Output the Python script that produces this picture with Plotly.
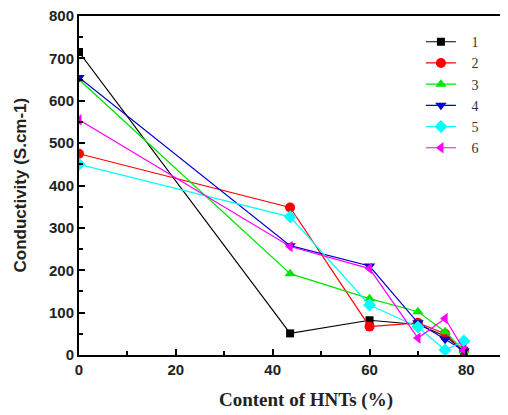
import plotly.graph_objects as go

x_vals = [0, 43.6, 60, 70, 75.6, 79.5]
s1 = [715, 51, 82, 72, 45, 10]
s2 = [475, 348, 67, 76, 50, 10]
s3 = [650, 192, 133, 102, 55, 10]
s4 = [655, 258, 210, 76, 37, 10]
s5 = [450, 326, 118, 66, 12, 33]
s6 = [555, 256, 204, 40, 86, 12]
names = ["1", "2", "3", "4", "5", "6"]
series = [s1, s2, s3, s4, s5, s6]
colors = ["#000000", "#ff0000", "#00e600", "#0000cc", "#00ffff", "#ff00ff"]
symbols = ["square", "circle", "triangle-up", "triangle-down", "diamond", "triangle-left"]

fig = go.Figure()
for n, s, c, m in zip(names, series, colors, symbols):
    fig.add_trace(go.Scatter(
        x=x_vals, y=s, name="\u00a0\u00a0\u00a0" + n, mode="lines+markers",
        line=dict(color=c, width=1.2),
        marker=dict(symbol=m, color=c, size=10 if m != "square" else 8),
    ))

fig.update_layout(
    width=500, height=407,
    margin=dict(l=71, r=0, t=8, b=60, autoexpand=False),
    paper_bgcolor="white", plot_bgcolor="white",
    showlegend=True,
    legend=dict(x=0.797, y=0.97, xanchor="left", yanchor="top",
                font=dict(family="Liberation Serif", size=14, color="#333"),
                bgcolor="rgba(0,0,0,0)", tracegroupgap=0, itemwidth=30),
    xaxis=dict(range=[0, 88.6], tickvals=[0, 20, 40, 60, 80], automargin=False,
               ticks="inside", ticklen=6, tickwidth=2, tickcolor="black",
               minor=dict(ticks="inside", ticklen=4, tickwidth=2, tickcolor="black", dtick=10),
               showline=True, linecolor="black", linewidth=2, mirror=True,
               showgrid=False, zeroline=False, ticklabeloverflow="allow",
               tickfont=dict(family="Liberation Sans", size=15, color="#222", weight="bold")),
    yaxis=dict(range=[0, 800], tickvals=[0, 100, 200, 300, 400, 500, 600, 700, 800], automargin=False,
               ticks="inside", ticklen=6, tickwidth=2, tickcolor="black",
               minor=dict(ticks="inside", ticklen=4, tickwidth=2, tickcolor="black", dtick=50),
               showline=True, linecolor="black", linewidth=2, mirror=False,
               showgrid=False, zeroline=False, ticklabeloverflow="allow",
               tickfont=dict(family="Liberation Sans", size=15, color="#222", weight="bold")),
    annotations=[
        dict(text="<b>Content of HNTs (%)</b>", xref="paper", yref="paper", x=0.53, y=0,
             xanchor="center", yanchor="middle", yshift=-45, showarrow=False,
             font=dict(family="Liberation Serif", size=19, color="#222")),
        dict(text="<b>Conductivity (S.cm-1)</b>", xref="paper", yref="paper", x=0, y=0.5,
             xanchor="center", yanchor="middle", xshift=-59, textangle=-90, showarrow=False,
             font=dict(family="Liberation Sans", size=17, color="#222")),
    ],
)

fig.write_html("out.html")
